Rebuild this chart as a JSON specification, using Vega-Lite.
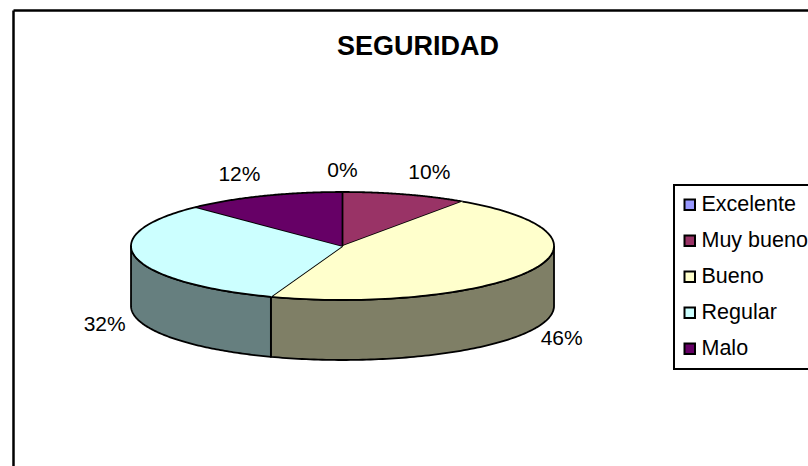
{"$schema":"https://vega.github.io/schema/vega-lite/v6.json","width":795,"height":456,"autosize":{"type":"none"},"padding":{"left":13,"top":10,"right":0,"bottom":0},"background":"white","title":{"text":"SEGURIDAD","anchor":"middle","dx":7.5,"dy":28,"offset":-44,"baseline":"alphabetic","font":"Liberation Sans","fontSize":27,"fontWeight":"bold","color":"black"},"config":{"view":{"stroke":null}},"data":{"values":[{"orden":1,"categoria":"Excelente","porcentaje":0},{"orden":2,"categoria":"Muy bueno","porcentaje":9.6},{"orden":3,"categoria":"Bueno","porcentaje":45.9},{"orden":4,"categoria":"Regular","porcentaje":32.3},{"orden":5,"categoria":"Malo","porcentaje":12.2}]},"transform":[{"window":[{"op":"sum","field":"porcentaje","as":"acum"}],"sort":[{"field":"orden","order":"ascending"}]},{"calculate":"(datum.acum-datum.porcentaje)/100*2*PI","as":"a0"},{"calculate":"datum.acum/100*2*PI","as":"a1"},{"calculate":"(datum.a0+datum.a1)/2","as":"am"}],"layer":[{"transform":[{"calculate":"max(datum.a0,PI/2)","as":"s0"},{"calculate":"min(datum.a1,1.5*PI)","as":"s1"},{"filter":"datum.s1>datum.s0"},{"calculate":"sequence(0,203)","as":"i"},{"flatten":["i"]},{"calculate":"datum.i<=100?datum.s0+(datum.s1-datum.s0)*datum.i/100:datum.i<=201?datum.s1-(datum.s1-datum.s0)*(datum.i-101)/100:datum.s0","as":"ang"},{"calculate":"sin(datum.ang)","as":"px"},{"calculate":"cos(datum.ang)-((datum.i>100&&datum.i<=201)?60/54:0)","as":"py"}],"mark":{"type":"line","filled":true,"stroke":"black","strokeWidth":1.8,"strokeJoin":"round"},"encoding":{"x":{"field":"px","type":"quantitative","scale":{"domain":[-1.558,2.2009],"nice":false,"zero":false},"axis":{"orient":"top","labels":false,"ticks":false,"title":null,"grid":false,"domainColor":"black","domainWidth":2.5}},"y":{"field":"py","type":"quantitative","scale":{"domain":[-4.074,4.37],"nice":false,"zero":false},"axis":{"orient":"left","labels":false,"ticks":false,"title":null,"grid":false,"domainColor":"black","domainWidth":2.5}},"order":{"field":"i","type":"quantitative"},"fill":{"field":"categoria","type":"nominal","legend":null,"scale":{"domain":["Bueno","Regular"],"range":["#7F7F66","#667F7F"]}}}},{"transform":[{"calculate":"sequence(0,103)","as":"i"},{"flatten":["i"]},{"calculate":"datum.i<=100?datum.a0+(datum.a1-datum.a0)*datum.i/100:0","as":"ang"},{"calculate":"datum.i<=100?sin(datum.ang):0","as":"px"},{"calculate":"datum.i<=100?cos(datum.ang):0","as":"py"}],"mark":{"type":"line","filled":true,"stroke":"black","strokeWidth":1.8,"strokeJoin":"round"},"encoding":{"x":{"field":"px","type":"quantitative","scale":{"domain":[-1.558,2.2009],"nice":false,"zero":false}},"y":{"field":"py","type":"quantitative","scale":{"domain":[-4.074,4.37],"nice":false,"zero":false}},"order":{"field":"i","type":"quantitative"},"fill":{"field":"categoria","type":"nominal","scale":{"domain":["Excelente","Muy bueno","Bueno","Regular","Malo"],"range":["#9999FF","#993366","#FFFFCC","#CCFFFF","#660066"]},"legend":{"title":null,"orient":"none","legendX":661,"legendY":175,"symbolType":"square","symbolSize":110,"symbolStrokeColor":"black","symbolStrokeWidth":2,"symbolOpacity":1,"symbolOffset":-4,"labelFont":"Liberation Sans","labelFontSize":21.5,"labelColor":"black","labelLimit":300,"labelOffset":1,"rowPadding":13,"padding":9,"strokeColor":"black","fillColor":"white","encode":{"legend":{"update":{"strokeWidth":{"value":2}}}}}}}},{"transform":[{"calculate":"round(datum.porcentaje)+'%'","as":"etiqueta"},{"calculate":"sin(datum.am)+(datum.porcentaje==0?0:(cos(datum.am)>0?24:31)*(sin(datum.am)>0?1:-1))/211.5","as":"lx"},{"calculate":"cos(datum.am)+(cos(datum.am)>0?22/54:-(60+7)/54)","as":"ly"}],"mark":{"type":"text","font":"Liberation Sans","fontSize":21,"color":"black","align":"center","baseline":"middle","dy":1},"encoding":{"x":{"field":"lx","type":"quantitative","scale":{"domain":[-1.558,2.2009],"nice":false,"zero":false}},"y":{"field":"ly","type":"quantitative","scale":{"domain":[-4.074,4.37],"nice":false,"zero":false}},"text":{"field":"etiqueta","type":"nominal"}}}],"resolve":{"scale":{"fill":"independent"}}}
